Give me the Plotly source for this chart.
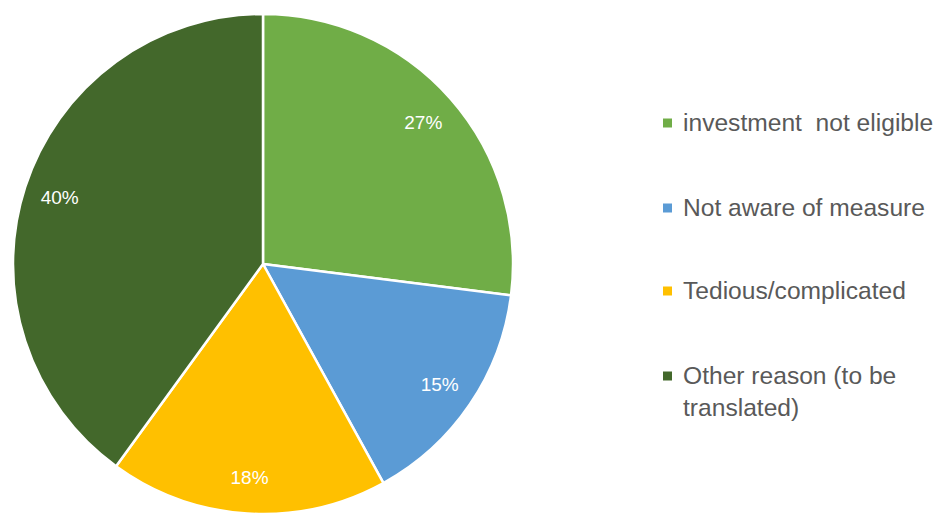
import plotly.graph_objects as go

# Data
labels = ["investment  not eligible", "Not aware of measure",
          "Tedious/complicated", "Other reason (to be translated)"]
legend_text = ["investment  not eligible", "Not aware of measure",
               "Tedious/complicated", "Other reason (to be<br>translated)"]
values = [27, 15, 18, 40]
colors = ["#70AD47", "#5B9BD5", "#FFC000", "#43682B"]

W, H = 944, 514
OFF = 8  # page body margin shifts the figure by 8px
# pie: centre (263, 264) on screen, radius 250 px
cx, cy, r = 263 - OFF, 264 - OFF, 250
dom_x = [(cx - r) / W, (cx + r) / W]
dom_y = [1 - (cy + r) / H, 1 - (cy - r) / H]

fig = go.Figure()
fig.add_trace(
    go.Pie(
        labels=labels,
        values=values,
        sort=False,
        direction="clockwise",
        rotation=0,
        marker=dict(colors=colors, line=dict(color="white", width=2.5)),
        textinfo="none",
        showlegend=False,
        domain=dict(x=dom_x, y=dom_y),
    )
)
# transparent ring only to place the % labels out toward the rim
fig.add_trace(
    go.Pie(
        labels=labels,
        values=values,
        sort=False,
        direction="clockwise",
        rotation=0,
        hole=0.71,
        marker=dict(colors=["rgba(0,0,0,0)"] * len(values), line=dict(width=0)),
        textinfo="percent",
        texttemplate="%{percent:.0%}",
        textposition="inside",
        insidetextorientation="horizontal",
        textfont=dict(family="Liberation Sans", size=19, color="white"),
        hoverinfo="skip",
        showlegend=False,
        domain=dict(x=dom_x, y=dom_y),
    )
)

# legend drawn by hand (Excel-like spacing)
leg_y = [123, 208, 291, 376]
for txt, col, yy in zip(legend_text, colors, leg_y):
    yy = yy - OFF
    fig.add_shape(
        type="rect", xref="paper", yref="paper",
        x0=(663 - OFF) / W, x1=(672 - OFF) / W,
        y0=1 - (yy + 4.5) / H, y1=1 - (yy - 4.5) / H,
        fillcolor=col, line=dict(width=0),
    )
    fig.add_annotation(
        xref="paper", yref="paper", x=(681 - OFF) / W, y=1 - (yy - 16.5) / H,
        xanchor="left", yanchor="top", align="left", showarrow=False,
        text=txt, font=dict(family="Liberation Sans", size=24.6, color="#595959"),
    )

fig.update_layout(
    width=W, height=H,
    margin=dict(l=0, r=0, t=0, b=0),
    paper_bgcolor="white",
    plot_bgcolor="white",
)

fig.write_html("out.html")
